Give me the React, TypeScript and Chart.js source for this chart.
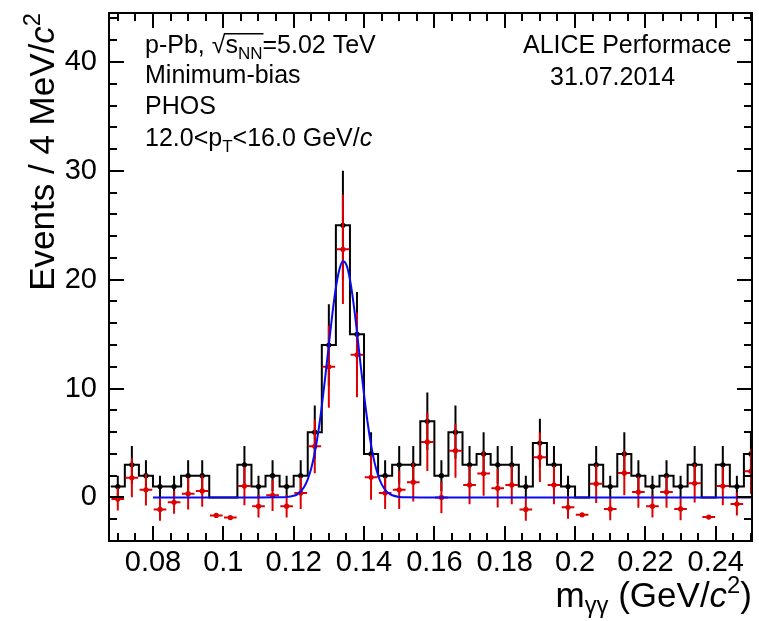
import React, { useEffect, useRef } from "react";
import { Chart, registerables } from "chart.js";

Chart.register(...registerables);

const FONT = '"Liberation Sans", Arial, Helvetica, sans-serif';

// ---- data ----
const BIN_CENTERS = [
  0.070, 0.074, 0.078, 0.082, 0.086, 0.090, 0.094, 0.098, 0.102, 0.106,
  0.110, 0.114, 0.118, 0.122, 0.126, 0.130, 0.134, 0.138, 0.142, 0.146,
  0.150, 0.154, 0.158, 0.162, 0.166, 0.170, 0.174, 0.178, 0.182, 0.186,
  0.190, 0.194, 0.198, 0.202, 0.206, 0.210, 0.214, 0.218, 0.222, 0.226,
  0.230, 0.234, 0.238, 0.242, 0.246, 0.250,
];
const BIN_HALF_WIDTH = 0.002;

// black histogram: raw counts per 4 MeV bin
const COUNTS = [
  1, 3, 2, 1, 1, 2, 2, 0, 0, 3,
  1, 2, 1, 2, 6, 14, 25, 15, 4, 2,
  3, 3, 7, 2, 6, 3, 4, 3, 3, 1,
  5, 3, 1, 0, 3, 1, 4, 2, 1, 2,
  1, 3, 0, 3, 1, 4,
];
const COUNT_ERRORS = [
  1, 1.73, 1.41, 1, 1, 1.41, 1.41, 0, 0, 1.73,
  1, 1.41, 1, 1.41, 2.45, 3.74, 5, 3.87, 2, 1.41,
  1.73, 1.73, 2.65, 1.41, 2.45, 1.73, 2, 1.73, 1.73, 1,
  2.24, 1.73, 1, 0, 1.73, 1, 2, 1.41, 1, 1.41,
  1, 1.73, 0, 1.73, 1, 2,
];

// red points: background-subtracted signal
const SIGNAL = [
  -0.15, 1.8, 0.7, -1.1, -0.45, 0.35, 0.6, -1.65, -1.85, 1.05,
  -0.8, 0.2, -0.8, 0.4, 4.7, 12.0, 22.8, 13.1, 1.85, 0.4,
  0.7, 1.4, 5.1, 0.0, 4.3, 1.15, 2.2, 0.85, 1.15, -1.1,
  3.7, 1.15, -0.9, -1.6, 1.25, -1.05, 2.25, 0.5, -0.8, 0.5,
  -1.05, 1.3, -1.8, 1.05, -0.6, 2.4,
];
const SIGNAL_ERRORS = [
  1.05, 1.77, 1.45, 1.05, 1.05, 1.45, 1.45, 0.15, 0.15, 1.77,
  1.05, 1.45, 1.05, 1.45, 2.48, 3.77, 5.02, 3.9, 2.05, 1.45,
  1.77, 1.77, 2.68, 1.45, 2.48, 1.77, 2.05, 1.77, 1.77, 1.05,
  2.27, 1.77, 1.05, 0.15, 1.77, 1.05, 2.05, 1.45, 1.05, 1.45,
  1.05, 1.77, 0.15, 1.77, 1.05, 2.05,
];
const SIGNAL_X_ERROR = 0.0018;

// blue fit curve
const FIT_X = [
  0.080, 0.110, 0.116, 0.118, 0.120, 0.121, 0.122, 0.123, 0.124, 0.125,
  0.126, 0.127, 0.128, 0.129, 0.130, 0.131, 0.132, 0.133, 0.134, 0.135,
  0.136, 0.137, 0.138, 0.139, 0.140, 0.141, 0.142, 0.143, 0.144, 0.145,
  0.146, 0.147, 0.148, 0.150, 0.152, 0.156, 0.252,
];
const FIT_Y = [
  0, 0, 0.01, 0.03, 0.15, 0.29, 0.55, 0.98, 1.66, 2.68,
  4.13, 6.03, 8.4, 11.13, 14.04, 16.85, 19.26, 20.94, 21.69, 21.36,
  20.03, 17.88, 15.19, 12.28, 9.46, 6.93, 4.83, 3.2, 2.03, 1.22,
  0.7, 0.38, 0.2, 0.05, 0.01, 0, 0,
];

const X_TICKS = [0.08, 0.1, 0.12, 0.14, 0.16, 0.18, 0.2, 0.22, 0.24];
const Y_TICKS = [0, 10, 20, 30, 40];
const X_MINOR_STEP = 0.005;
const Y_MINOR_STEP = 2;
const X_RANGE = [0.0675, 0.2503];
const Y_RANGE = [-4, 44.5];

// ---- text ----
type Seg = { t: string; sub?: boolean; sup?: boolean; it?: boolean; root?: boolean; over?: boolean };
const TEXT_LINES: { segs: Seg[]; x: number; y: number }[] = [
  {
    segs: [{ t: "p-Pb, " }, { t: "√", root: true }, { t: "s", over: true }, { t: "NN", sub: true, over: true }, { t: "=5.02 TeV" }],
    x: 145, y: 53,
  },
  { segs: [{ t: "Minimum-bias" }], x: 145, y: 83 },
  { segs: [{ t: "PHOS" }], x: 145, y: 114 },
  {
    segs: [{ t: "12.0<p" }, { t: "T", sub: true }, { t: "<16.0 GeV/" }, { t: "c", it: true }],
    x: 145, y: 146,
  },
  { segs: [{ t: "ALICE Performace" }], x: 523, y: 53 },
  { segs: [{ t: "31.07.2014" }], x: 550, y: 85 },
];
const X_TITLE: Seg[] = [{ t: "m" }, { t: "γγ", sub: true }, { t: " (GeV/" }, { t: "c", it: true }, { t: "2", sup: true }, { t: ")" }];
const Y_TITLE: Seg[] = [{ t: "Events / 4 MeV/" }, { t: "c", it: true }, { t: "2", sup: true }];

const RED = "#dd0000";
const BLUE = "#0a0af0";

function segFont(s: Seg, size: number) {
  const sz = s.sub || s.sup ? size * 0.68 : size;
  return `${s.it ? "italic " : ""}${sz}px ${FONT}`;
}
function measureRich(ctx: CanvasRenderingContext2D, segs: Seg[], size: number) {
  let w = 0;
  for (const s of segs) {
    ctx.font = segFont(s, size);
    w += ctx.measureText(s.t).width;
  }
  return w;
}
function drawRich(
  ctx: CanvasRenderingContext2D,
  segs: Seg[],
  x: number,
  y: number,
  size: number,
  align: "left" | "right",
  subShift = 0.25
) {
  let cx = align === "right" ? x - measureRich(ctx, segs, size) : x;
  let rootX = 0, rootTop = 0, overEnd = 0;
  ctx.textAlign = "left";
  ctx.textBaseline = "alphabetic";
  for (const s of segs) {
    ctx.font = segFont(s, size);
    const m = ctx.measureText(s.t);
    const dy = s.sub ? size * subShift : s.sup ? -size * 0.4 : 0;
    ctx.fillText(s.t, cx, y + dy);
    if (s.root) {
      rootX = cx + m.width * 0.9;
      rootTop = y - m.actualBoundingBoxAscent + 0.8;
    }
    if (s.over) overEnd = cx + m.width;
    cx += m.width;
  }
  if (overEnd > 0) {
    ctx.save();
    ctx.lineWidth = 1.4;
    ctx.strokeStyle = "#000";
    ctx.beginPath();
    ctx.moveTo(rootX, rootTop);
    ctx.lineTo(overEnd + 1, rootTop);
    ctx.stroke();
    ctx.restore();
  }
}

const errorBarPlugin = {
  id: "errorBars",
  beforeDatasetDraw(chart: any, args: any) {
    const ds: any = chart.data.datasets[args.index];
    if (!ds.errorY) return;
    const { ctx, chartArea: a } = chart;
    const xs = chart.scales.x, ys = chart.scales.y;
    ctx.save();
    ctx.beginPath();
    ctx.rect(a.left, a.top, a.right - a.left, a.bottom - a.top);
    ctx.clip();
    ctx.strokeStyle = ds.errorColor;
    ctx.lineWidth = 2;
    ctx.beginPath();
    ds.data.forEach((p: any, i: number) => {
      const e = ds.errorY[i];
      const px = xs.getPixelForValue(p.x);
      if (e > 0) {
        ctx.moveTo(px, ys.getPixelForValue(p.y - e));
        ctx.lineTo(px, ys.getPixelForValue(p.y + e));
      }
      if (ds.errorX) {
        const py = ys.getPixelForValue(p.y);
        ctx.moveTo(xs.getPixelForValue(p.x - ds.errorX), py);
        ctx.lineTo(xs.getPixelForValue(p.x + ds.errorX), py);
      }
    });
    ctx.stroke();
    ctx.restore();
  },
};

const framePlugin = {
  id: "rootFrame",
  afterDraw(chart: any) {
    const { ctx, chartArea: a } = chart;
    const xs = chart.scales.x, ys = chart.scales.y;
    ctx.save();
    ctx.strokeStyle = "#000";
    ctx.lineWidth = 2;
    ctx.strokeRect(a.left, a.top, a.right - a.left, a.bottom - a.top);
    ctx.beginPath();
    const k0 = Math.ceil(X_RANGE[0] / X_MINOR_STEP - 1e-6);
    const k1 = Math.floor(X_RANGE[1] / X_MINOR_STEP + 1e-6);
    for (let k = k0; k <= k1; k++) {
      const v = k * X_MINOR_STEP;
      const major = X_TICKS.some((t) => Math.abs(t - v) < 1e-6);
      const len = major ? 15 : 8;
      const px = Math.round(xs.getPixelForValue(v));
      ctx.moveTo(px, a.bottom);
      ctx.lineTo(px, a.bottom - len);
      ctx.moveTo(px, a.top);
      ctx.lineTo(px, a.top + len);
    }
    const j0 = Math.ceil(Y_RANGE[0] / Y_MINOR_STEP - 1e-6);
    const j1 = Math.floor(Y_RANGE[1] / Y_MINOR_STEP + 1e-6);
    for (let j = j0; j <= j1; j++) {
      const v = j * Y_MINOR_STEP;
      const major = Y_TICKS.includes(v);
      const len = major ? 15 : 8;
      const py = Math.round(ys.getPixelForValue(v));
      ctx.moveTo(a.left, py);
      ctx.lineTo(a.left + len, py);
      ctx.moveTo(a.right, py);
      ctx.lineTo(a.right - len, py);
    }
    ctx.stroke();

    ctx.fillStyle = "#000";
    for (const line of TEXT_LINES) drawRich(ctx, line.segs, line.x, line.y, 25, "left");
    drawRich(ctx, X_TITLE, a.right, 607, 35, "right", 0.17);
    ctx.save();
    ctx.translate(54, a.top);
    ctx.rotate(-Math.PI / 2);
    drawRich(ctx, Y_TITLE, 0, 0, 35, "right");
    ctx.restore();
    ctx.restore();
  },
};

export default function App() {
  const ref = useRef<HTMLCanvasElement>(null);
  useEffect(() => {
    document.body.style.margin = "0";
    const histPoints: { x: number; y: number }[] = [];
    BIN_CENTERS.forEach((c, i) => {
      histPoints.push({ x: c - BIN_HALF_WIDTH, y: COUNTS[i] });
      histPoints.push({ x: c + BIN_HALF_WIDTH, y: COUNTS[i] });
    });
    const nonEmpty = BIN_CENTERS.map((c, i) => i).filter((i) => COUNTS[i] > 0);
    const blackPts = nonEmpty.map((i) => ({ x: BIN_CENTERS[i], y: COUNTS[i] }));
    const blackErr = nonEmpty.map((i) => COUNT_ERRORS[i]);
    const redPts = BIN_CENTERS.map((c, i) => ({ x: c, y: SIGNAL[i] }));
    const fitPts = FIT_X.map((x, i) => ({ x, y: FIT_Y[i] }));

    const chart = new Chart(ref.current as HTMLCanvasElement, {
      type: "line",
      data: {
        datasets: [
          {
            data: histPoints,
            borderColor: "#000",
            borderWidth: 2,
            pointRadius: 0,
            tension: 0,
            fill: false,
            order: 5,
          },
          {
            data: blackPts,
            showLine: false,
            pointRadius: 2.6,
            pointBackgroundColor: "#000",
            pointBorderWidth: 0,
            order: 4,
            errorY: blackErr,
            errorColor: "#000",
          } as any,
          {
            data: redPts,
            showLine: false,
            pointRadius: 2.6,
            pointBackgroundColor: RED,
            pointBorderWidth: 0,
            order: 3,
            errorY: SIGNAL_ERRORS,
            errorX: SIGNAL_X_ERROR,
            errorColor: RED,
          } as any,
          {
            data: fitPts,
            borderColor: BLUE,
            borderWidth: 2,
            pointRadius: 0,
            cubicInterpolationMode: "monotone",
            fill: false,
            order: 1,
          },
        ],
      },
      options: {
        responsive: false,
        animation: false,
        events: [],
        layout: { padding: { top: 13, right: 7, left: 0, bottom: 0 } },
        plugins: { legend: { display: false }, tooltip: { enabled: false } },
        scales: {
          x: {
            type: "linear",
            min: X_RANGE[0],
            max: X_RANGE[1],
            grid: { display: false, drawTicks: false },
            border: { display: false },
            ticks: {
              color: "#000",
              font: { family: FONT, size: 29 },
              padding: 5,
              maxRotation: 0,
              autoSkip: false,
              callback: (v: any) => String(Number(Number(v).toFixed(3))),
            },
            afterBuildTicks: (s: any) => {
              s.ticks = X_TICKS.map((v) => ({ value: v }));
            },
            afterFit: (s: any) => {
              s.height = 80;
              s.paddingLeft = 0;
              s.paddingRight = 0;
            },
          },
          y: {
            type: "linear",
            min: Y_RANGE[0],
            max: Y_RANGE[1],
            grid: { display: false, drawTicks: false },
            border: { display: false },
            ticks: {
              color: "#000",
              font: { family: FONT, size: 29 },
              padding: 12,
              autoSkip: false,
              callback: (v: any) => String(v),
            },
            afterBuildTicks: (s: any) => {
              s.ticks = Y_TICKS.map((v) => ({ value: v }));
            },
            afterFit: (s: any) => {
              s.width = 109;
              s.paddingTop = 0;
              s.paddingBottom = 0;
            },
          },
        },
      },
      plugins: [errorBarPlugin, framePlugin],
    } as any);
    return () => chart.destroy();
  }, []);
  return (
    <canvas
      ref={ref}
      width={759}
      height={621}
      style={{ position: "fixed", left: 0, top: 0, display: "block" }}
    />
  );
}
